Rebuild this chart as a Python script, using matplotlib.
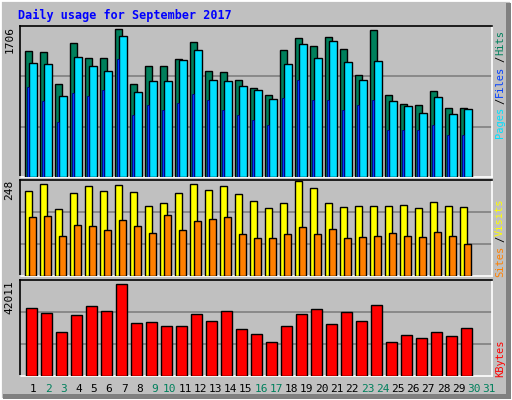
import matplotlib
matplotlib.use("Agg")
import matplotlib.pyplot as plt
from matplotlib.patches import Rectangle

days = list(range(1, 32))
hits = [1424,1412,1051,1514,1344,1344,1672,1051,1254,1254,1333,1525,1198,1186,1096,1006,926,1435,1570,1480,1582,1446,1152,1661,926,825,813,972,780,780]
files = [1288,1277,915,1356,1254,1198,1593,960,1085,1085,1322,1435,1096,1085,1028,983,881,1277,1503,1344,1537,1299,1096,1311,859,802,723,904,712,768]
pages = [1017,859,621,949,915,983,1333,700,813,757,836,938,870,757,700,644,587,893,1096,870,870,757,813,870,531,531,531,587,475,475]
visits = [219,237,173,214,232,219,235,217,181,188,214,237,222,232,212,194,175,188,245,227,188,178,181,181,181,183,175,191,181,178]
sites = [152,155,103,132,129,119,144,129,111,157,119,142,147,152,108,98,98,108,126,108,121,98,101,103,111,103,101,114,103,83]
kbytes = [29757,27569,19254,26694,30632,28444,40259,23193,23630,21880,21880,27132,24068,28444,20567,18379,14878,21880,27132,29319,22755,28006,24068,31070,14878,17941,16629,19254,17504,21005]
weekends = [2,3,9,10,16,17,23,24,30,31]
max_hits, max_visits, max_kb = 1706, 248, 42011

W, H = 512, 400
fig = plt.figure(figsize=(W/100, H/100), dpi=100)
fig.patch.set_facecolor("#c0c0c0")
fa = fig.add_axes([0, 0, 1, 1]); fa.set_xlim(0, W); fa.set_ylim(H, 0); fa.axis("off")
fa.add_patch(Rectangle((0, 0), W-1, H-1, fill=False, ec="white", lw=2))
fa.add_patch(Rectangle((3, H-6), W-4, 5, color="#808080", lw=0))
fa.add_patch(Rectangle((W-6, 3), 5, H-4, color="#808080", lw=0))
fa.text(18, 15, "Daily usage for September 2017", color="#0000ff", family="DejaVu Sans Mono",
        weight="bold", fontsize=8.5, va="center")

n = len(hits)
x = list(range(1, n+1))

def panel(top, bot, ymax):
    ax = fig.add_axes([20/W, 1-bot/H, 472/W, (bot-top)/H])
    ax.set_facecolor("#c0c0c0")
    ax.set_xlim(0.13, 31.6); ax.set_ylim(0, ymax*1.0)
    for s in ax.spines.values():
        s.set_color("black"); s.set_linewidth(1.2)
    ax.spines["bottom"].set_color("white"); ax.spines["right"].set_color("white")
    for f in (1/3, 2/3):
        ax.axhline(ymax*f, color="#808080", lw=1.2, zorder=0)
    ax.set_xticks([]); ax.set_yticks([])
    ax.text(-0.012, 1.0, f"{ymax}", transform=ax.transAxes, rotation=90, ha="right",
            va="top", fontsize=8, family="DejaVu Sans Mono")
    return ax

ekw = dict(edgecolor="black", linewidth=1, zorder=3)
a1 = panel(26, 177, max_hits)
a1.bar([i-0.3 for i in x], hits, 0.47, color="#00805c", **ekw)
a1.bar([i for i in x], files, 0.53, color="#00e0ff", **ekw)
a1.bar([i-0.33 for i in x], pages, 0.13, color="#0040ff", edgecolor="#000080", linewidth=0.6, zorder=4)

a2 = panel(180, 276, max_visits)
a2.bar([i-0.3 for i in x], visits, 0.47, color="#ffff00", **ekw)
a2.bar([i-0.05 for i in x], sites, 0.47, color="#ff8000", **ekw)

a3 = panel(280, 376, max_kb)
a3.bar([i-0.1 for i in x], kbytes, 0.68, color="#ff0000", **ekw)

for d in days:
    fa.text(33+15.2*(d-1), 389, str(d), ha="center", va="center", fontsize=8,
            family="DejaVu Sans Mono", color="#00805c" if d in weekends else "black")

def rlabel(parts, ybottom):
    y = ybottom
    for txt, col in parts:
        fa.text(500, y, txt, rotation=90, color=col, fontsize=7.5, family="DejaVu Sans Mono",
                ha="center", va="bottom")
        y -= 6.9*len(txt)
rlabel([("Pages", "#00e0ff"), ("/", "black"), ("Files", "#0040ff"), ("/", "black"), ("Hits", "#00805c")], 138)
rlabel([("Sites", "#ff8000"), ("/", "black"), ("Visits", "#ffff00")], 277)
rlabel([("KBytes", "#ff0000")], 377)

fig.savefig("out.png", dpi=100, facecolor=fig.get_facecolor())
